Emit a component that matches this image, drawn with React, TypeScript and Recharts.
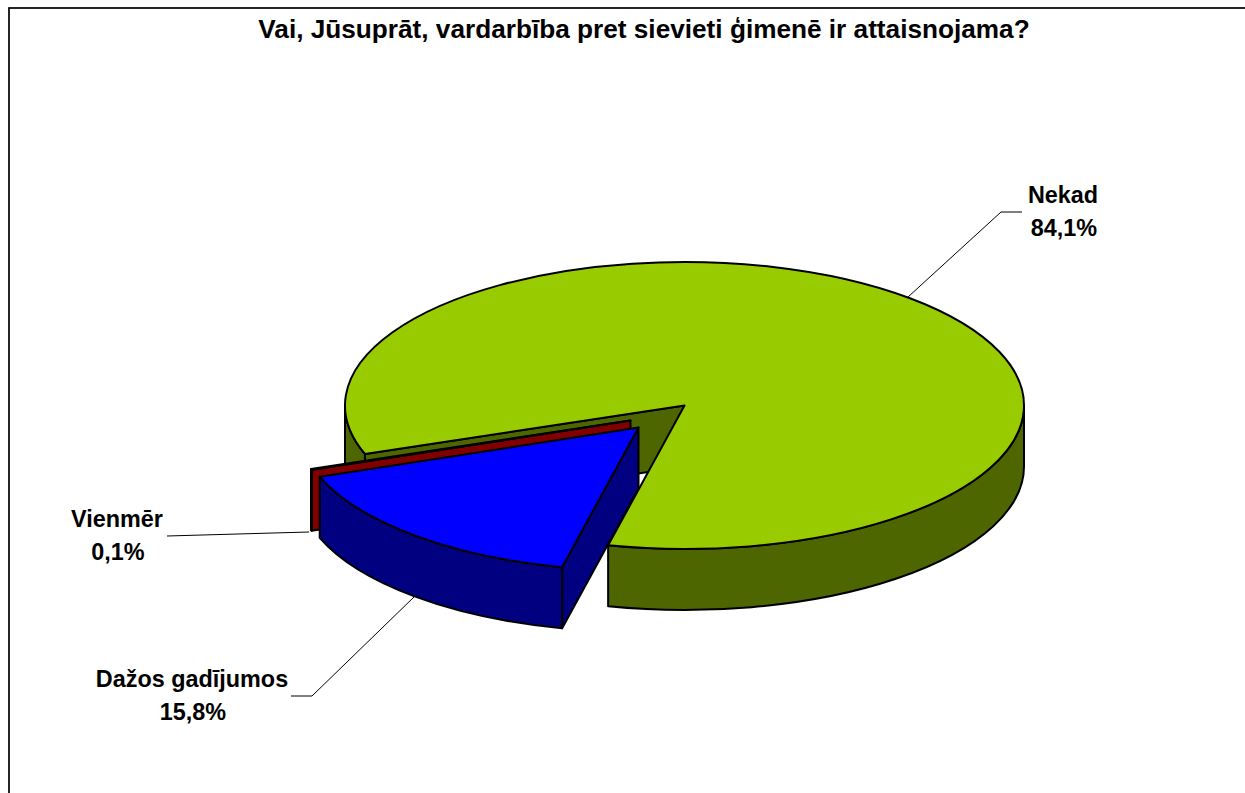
import React from 'react';
import { PieChart, Pie } from 'recharts';

const TITLE = 'Vai, Jūsuprāt, vardarbība pret sievieti ģimenē ir attaisnojama?';

// order is counter-clockwise from the edge of the gap so the slices paint back to front
const categories = ['Nekad', 'Vienmēr', 'Dažos gadījumos'];
const shares = [84.1, 0.1, 15.8];
const shareLabels = ['84,1%', '0,1%', '15,8%'];

const topColors = ['#99CC00', '#800000', '#0000FF'];
const wallColors = ['#4D6600', '#800000', '#000080'];

const chartData = categories.map((name, i) => ({
    name,
    value: shares[i],
    label: shareLabels[i],
    fill: topColors[i],
    wall: wallColors[i],
}));

const TILT = 143.5 / 339.5;
const DEPTH = 61;

// how far each slice is pulled out of the pie, in pixels
const pullOut: Record<string, [number, number]> = {
    Nekad: [0, 0],
    Vienmēr: [-54, 15],
    'Dažos gadījumos': [-46, 22],
};

const labelSpots: Record<string, { x: number; y: number; leader: string }> = {
    Nekad: { x: 1063, y: 203, leader: '908,297 1001,212 1022,212' },
    Vienmēr: { x: 117, y: 527, leader: '309,532 167,536' },
    'Dažos gadījumos': { x: 192, y: 687, leader: '415,596 312,696 291,696' },
};

const rad = (deg: number) => (deg * Math.PI) / 180;

const SliceShape = (props: any) => {
    const { cx, cy, outerRadius, startAngle, endAngle, fill, payload } = props;
    const [dx, dy] = pullOut[payload.name];
    const ox = cx + dx;
    const oy = cy + dy;
    const rx = outerRadius;
    const ry = outerRadius * TILT;
    const wall = payload.wall;
    const px = (a: number) => ox + rx * Math.cos(rad(a));
    const py = (a: number) => oy - ry * Math.sin(rad(a));

    // rim is only seen on the front half of the ellipse
    const rims: string[] = [];
    [180, 540].forEach((from) => {
        const a = Math.max(startAngle, from);
        const b = Math.min(endAngle, from + 180);
        if (b > a) {
            rims.push(
                `M${px(a)},${py(a)} A${rx},${ry} 0 0 0 ${px(b)},${py(b)} ` +
                    `L${px(b)},${py(b) + DEPTH} A${rx},${ry} 0 0 1 ${px(a)},${py(a) + DEPTH} Z`,
            );
        }
    });

    // cut faces that look towards the viewer
    const faces: string[] = [];
    if (Math.cos(rad(startAngle)) > 0) {
        faces.push(`M${ox},${oy} L${px(startAngle)},${py(startAngle)} L${px(startAngle)},${py(startAngle) + DEPTH} L${ox},${oy + DEPTH} Z`);
    }
    if (Math.cos(rad(endAngle)) < 0) {
        faces.push(`M${ox},${oy} L${px(endAngle)},${py(endAngle)} L${px(endAngle)},${py(endAngle) + DEPTH} L${ox},${oy + DEPTH} Z`);
    }

    const large = endAngle - startAngle > 180 ? 1 : 0;
    const top = `M${ox},${oy} L${px(startAngle)},${py(startAngle)} A${rx},${ry} 0 ${large} 0 ${px(endAngle)},${py(endAngle)} Z`;

    return (
        <g>
            {faces.map((d, i) => (
                <path key={`f${i}`} d={d} fill={wall} stroke="#000" strokeWidth={2} strokeLinejoin="round" />
            ))}
            {rims.map((d, i) => (
                <path key={`r${i}`} d={d} fill={wall} stroke="#000" strokeWidth={2} strokeLinejoin="round" />
            ))}
            <path d={top} fill={fill} stroke="#000" strokeWidth={2} strokeLinejoin="round" />
        </g>
    );
};

const SliceLabel = (props: any) => {
    const spot = labelSpots[props.name];
    const entry = chartData.find((d) => d.name === props.name);
    return (
        <g>
            <polyline points={spot.leader} fill="none" stroke="#000" strokeWidth={1} />
            <text x={spot.x} y={spot.y} textAnchor="middle" fontFamily="Liberation Sans" fontWeight="bold" fontSize={23.4} fill="#000">
                {props.name}
            </text>
            <text x={spot.x + 1} y={spot.y + 33} textAnchor="middle" fontFamily="Liberation Sans" fontWeight="bold" fontSize={23.4} fill="#000">
                {entry?.label}
            </text>
        </g>
    );
};

const App = () => {
    return (
        <div style={{ position: 'absolute', left: 0, top: 0, width: 1245, height: 793, background: '#fff' }}>
            <PieChart width={1245} height={793} margin={{ top: 0, right: 0, bottom: 0, left: 0 }}>
                {/* frame runs off the right and bottom of the picture */}
                <rect x={9} y={8} width={1300} height={850} fill="none" stroke="#000" strokeWidth={1.7} />
                <text x={644} y={38} textAnchor="middle" fontFamily="Liberation Sans" fontWeight="bold" fontSize={26.2} fill="#000">
                    {TITLE}
                </text>
                <Pie
                    data={chartData}
                    dataKey="value"
                    nameKey="name"
                    cx={684.5}
                    cy={405.5}
                    innerRadius={0}
                    outerRadius={339.5}
                    startAngle={257}
                    endAngle={617}
                    paddingAngle={0}
                    shape={SliceShape}
                    activeShape={SliceShape}
                    inactiveShape={SliceShape}
                    label={SliceLabel}
                    labelLine={false}
                    isAnimationActive={false}
                />
            </PieChart>
        </div>
    );
};

export default App;
